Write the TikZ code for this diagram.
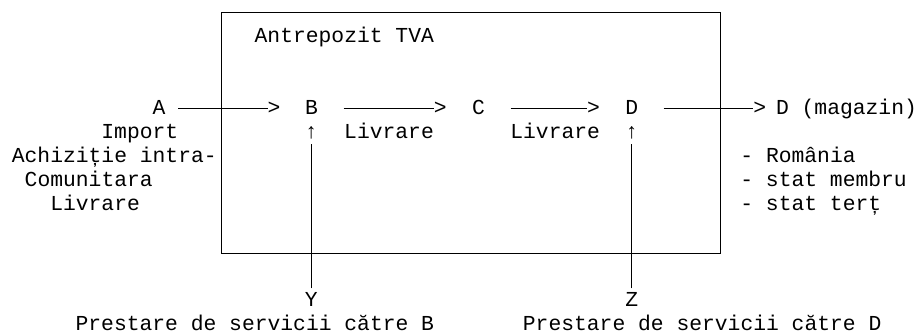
\documentclass[tikz,border=0pt]{standalone}
\usepackage{fontspec}
\setmainfont{Liberation Serif}
\newfontfamily\monofont{Liberation Mono}
\begin{document}
\begin{tikzpicture}[x=0.75pt,y=-0.75pt,
  txt/.style={font=\monofont\fontsize{16}{19}\selectfont, text=black, inner sep=0pt, outer sep=0pt,
              text height=13.32pt, text depth=4.8pt, anchor=center},
  ln/.style={line width=1pt, draw=black}]
\useasboundingbox (0,0) rectangle (917,333);
% frame of the bonded warehouse
\draw[ln] (221.5,12.4) rectangle (720.7,253.2);
\node[txt] (title) at (344.3,36.35) {Antrepozit TVA};
% main row
\node[txt] (A)  at (159,108.35) {A};
\node[txt] (gA) at (274.0,108.35) {>};
\node[txt] (B)  at (311.6,108.35) {B};
\node[txt] (gB) at (440.16,108.35) {>};
\node[txt] (C)  at (478.5,108.35) {C};
\node[txt] (gC) at (593.52,108.35) {>};
\node[txt] (D)  at (631.7,108.35) {D};
\node[txt] (gD) at (759.66,108.35) {>};
\node[txt] (Dm) at (846.5,108.35) {D (magazin)};
\draw[ln] ([xshift=9.6pt]A.east) -- (gA.west);
\draw[ln] ([xshift=19.2pt]B.east) -- (gB.west);
\draw[ln] ([xshift=19.2pt]C.east) -- (gC.west);
\draw[ln] ([xshift=19.2pt]D.east) -- (gD.west);
% row 1
\node[txt] (imp)  at (139.83,132.35) {Import};
\node[txt] (uB)   at (311.2,132.35) {↑};
\node[txt] (liv1) at (389.04,132.35) {Livrare};
\node[txt] (liv2) at (555.18,132.35) {Livrare};
\node[txt] (uD)   at (631.7,132.35) {↑};
% left labels
\node[txt] (ach) at (114.27,156.35) {Achiziție intra-};
\node[txt] (com) at (88.71,180.35) {Comunitara};
\node[txt] (liv0) at (95.1,204.35) {Livrare};
% right labels
\node[txt] (ro)  at (798.0,156.35) {- România};
\node[txt] (sm)  at (823.56,180.35) {- stat membru};
\node[txt] (st)  at (810.78,204.35) {- stat terț};
% service providers
\node[txt] (Y) at (311.2,300.35) {Y};
\node[txt] (Z) at (631.7,300.35) {Z};
\node[txt] (pY) at (254.85,324.35) {Prestare de servicii către B};
\node[txt] (pZ) at (702.15,324.35) {Prestare de servicii către D};
\draw[ln] (Y.north) -- (uB.south);
\draw[ln] (Z.north) -- (uD.south);
\end{tikzpicture}
\end{document}
